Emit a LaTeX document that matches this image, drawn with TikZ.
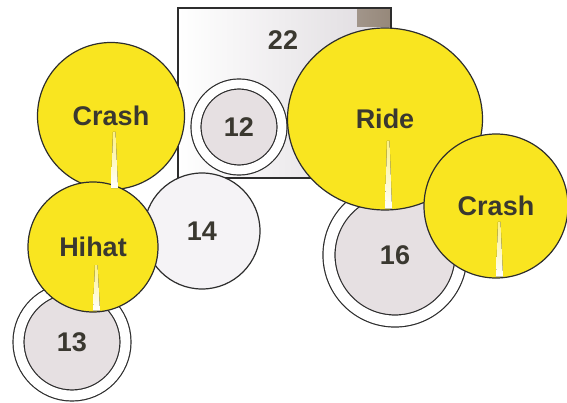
\documentclass[tikz,border=0pt]{standalone}
\usepackage{fontspec}
\setmainfont{Liberation Sans}
\usetikzlibrary{shapes.geometric,calc}

\definecolor{brass}{RGB}{249,229,32}
\definecolor{edge}{RGB}{45,45,45}
\definecolor{ink}{RGB}{58,56,48}
\definecolor{head}{RGB}{230,224,226}
\definecolor{snow}{RGB}{245,243,246}
\definecolor{drumgray}{RGB}{222,218,222}
\definecolor{rimbrown}{RGB}{150,136,122}

\begin{document}
\begin{tikzpicture}[x=1pt,y=-1pt,
    every node/.style={font=\fontsize{27}{30}\selectfont\bfseries,text=ink,inner sep=0pt},
    cymbal/.style={circle,draw=edge,fill=brass,line width=1.2pt},
    tom/.style={circle,draw=edge,fill=head,double=white,line width=1.2pt},
    floortom/.style={circle,draw=edge,fill=snow,line width=1.2pt},
    bassdrum/.style={rectangle,draw=edge,line width=1.2pt,
        left color=white,right color=drumgray,
        minimum width=213pt,minimum height=170pt,
        path picture={\shade[left color=drumgray,right color=rimbrown]
            ($(path picture bounding box.north east)+(-34pt,0)$) rectangle
            ($(path picture bounding box.north east)+(0,-19pt)$);}},
    streak/.style={top color=brass!55!white,bottom color=white}]
    \useasboundingbox (0,0) rectangle (567,403);

    % drums
    \node[bassdrum] (kick) at (284.5,93) {};
    \node (kicklbl) at (283,40) {22};
    \node[tom,minimum size=86pt,double distance=8.8pt] (t12) at (239,127) {12};
    \node[floortom,minimum size=116pt] (t14) at (202,231) {14};
    \node[tom,minimum size=107pt,double distance=9.8pt] (t13) at (72,342) {13};
    \node[tom,minimum size=132pt,double distance=10.8pt] (t16) at (395,255) {16};

    % cymbals
    \node[cymbal,minimum size=147pt] (crashL) at (111,116) {Crash};
    \node[cymbal,minimum size=130pt] (hihat) at (93,247) {Hihat};
    \node[cymbal,ellipse,minimum width=195pt,minimum height=182pt] (ride) at (385,119) {Ride};
    \node[cymbal,minimum size=144pt] (crashR) at (496,206) {Crash};

    \foreach \c/\d in {crashL/16,hihat/18,ride/22,crashR/16}
        \fill[streak] ($(\c.center)+(2,\d)$) -- ($(\c.center)+(4.5,\d)$)
            -- ($(\c.south)+(7,-2)$) -- ($(\c.south)+(0,-2)$) -- cycle;
\end{tikzpicture}
\end{document}
